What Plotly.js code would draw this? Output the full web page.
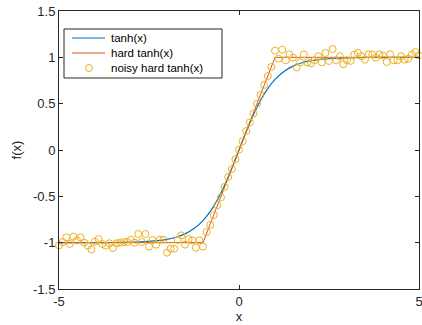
<!DOCTYPE html>
<html>
<head>
<meta charset="utf-8">
<script src="https://cdn.plot.ly/plotly-3.0.1.min.js"></script>
<style>html,body{margin:0;padding:0;background:#fff;}#chart{width:422px;height:325px;}</style>
</head>
<body>
<div id="chart"></div>
<script>
// tanh(x) sampled values
var tanhX = [-5,-4.75,-4.5,-4.25,-4,-3.75,-3.5,-3.25,-3,-2.75,-2.5,-2.25,-2,-1.75,-1.5,-1.25,-1,-0.75,-0.5,-0.25,0,0.25,0.5,0.75,1,1.25,1.5,1.75,2,2.25,2.5,2.75,3,3.25,3.5,3.75,4,4.25,4.5,4.75,5];
var tanhY = [-0.9999,-0.9999,-0.9998,-0.9996,-0.9993,-0.9989,-0.9982,-0.9970,-0.9951,-0.9919,-0.9866,-0.9780,-0.9640,-0.9414,-0.9051,-0.8483,-0.7616,-0.6351,-0.4621,-0.2449,0,0.2449,0.4621,0.6351,0.7616,0.8483,0.9051,0.9414,0.9640,0.9780,0.9866,0.9919,0.9951,0.9970,0.9982,0.9989,0.9993,0.9996,0.9998,0.9999,0.9999];
// hard tanh(x) breakpoints
var hardX = [-5,-1,1,5];
var hardY = [-1,-1,1,1];
// noisy hard tanh(x)
var noisyX = [-5,-4.9,-4.8,-4.7,-4.6,-4.5,-4.4,-4.3,-4.2,-4.1,-4,-3.9,-3.8,-3.7,-3.6,-3.5,-3.4,-3.3,-3.2,-3.1,-3,-2.9,-2.8,-2.7,-2.6,-2.5,-2.4,-2.3,-2.2,-2.1,-2,-1.9,-1.8,-1.7,-1.6,-1.5,-1.4,-1.3,-1.2,-1.1,-1,-0.9,-0.8,-0.7,-0.6,-0.5,-0.4,-0.3,-0.2,-0.1,0,0.1,0.2,0.3,0.4,0.5,0.6,0.7,0.8,0.9,1,1.1,1.2,1.3,1.4,1.5,1.6,1.7,1.8,1.9,2,2.1,2.2,2.3,2.4,2.5,2.6,2.7,2.8,2.9,3,3.1,3.2,3.3,3.4,3.5,3.6,3.7,3.8,3.9,4,4.1,4.2,4.3,4.4,4.5,4.6,4.7,4.8,4.9,5];
var noisyY = [-1.029,-0.993,-0.943,-1.014,-0.935,-0.975,-0.943,-1.000,-1.032,-1.072,-0.989,-0.961,-1.014,-1.032,-1.007,-1.057,-1.007,-1.000,-0.993,-0.993,-0.968,-1.000,-0.907,-0.993,-0.907,-1.043,-0.971,-1.021,-0.968,-0.968,-1.108,-1.065,-1.065,-0.971,-0.921,-1.021,-0.961,-0.975,-1.054,-0.975,-1.043,
  -0.886,-0.809,-0.703,-0.596,-0.512,-0.398,-0.291,-0.205,-0.100,0.004,0.093,0.204,0.297,0.394,0.498,0.595,0.703,0.799,0.896,
  1.072,0.986,1.082,0.968,1.032,0.996,0.892,0.946,1.032,0.946,0.935,0.968,1.011,0.946,1.047,0.961,1.090,0.968,1.011,0.925,0.968,0.961,1.029,1.047,1.011,0.975,1.032,1.032,0.996,1.032,1.018,0.950,1.032,0.968,0.968,1.011,0.975,0.986,1.029,1.057,1.022];
var xTicks = [-5,0,5];
var yTicks = [-1.5,-1,-0.5,0,0.5,1,1.5];
var seriesNames = ['tanh(x)','hard tanh(x)','noisy hard tanh(x)'];
var colors = ['#0072BD','#D95319','#EDB120'];

var font = {family:'Liberation Sans, Arial, sans-serif', size:13, color:'#262626'};
var legFont = {family:'Liberation Sans, Arial, sans-serif', size:11.5, color:'#000'};
var traces = [
  {x:tanhX, y:tanhY, type:'scatter', mode:'lines', name:seriesNames[0], line:{color:colors[0], width:1.2, shape:'spline'}},
  {x:hardX, y:hardY, type:'scatter', mode:'lines', name:seriesNames[1], line:{color:colors[1], width:1}},
  {x:noisyX, y:noisyY, type:'scatter', mode:'markers', name:seriesNames[2], cliponaxis:false,
   marker:{symbol:'circle-open', size:7, color:colors[2], line:{width:1, color:colors[2]}}}
];
var axisCommon = {showgrid:false, zeroline:false, showline:true, mirror:'allticks', linecolor:'#262626', linewidth:1,
  ticks:'inside', ticklen:4, tickcolor:'#262626', tickfont:font, ticklabeloverflow:'allow'};

// custom legend (MATLAB-style compact box)
var legBox = {x0:0.0139, x1:0.4528, y0:0.759, y1:0.9353};
var rowY = [0.9029, 0.8489, 0.7950];
var sampleX0 = 0.0361, sampleX1 = 0.1278, markX = 0.0833, textX = 0.1389;
var shapes = [
  {type:'rect', xref:'paper', yref:'paper', x0:legBox.x0, x1:legBox.x1, y0:legBox.y0, y1:legBox.y1, fillcolor:'#fff', line:{color:'#262626', width:1}, layer:'above'},
  {type:'line', xref:'paper', yref:'paper', x0:sampleX0, x1:sampleX1, y0:rowY[0], y1:rowY[0], line:{color:colors[0], width:1.2}, layer:'above'},
  {type:'line', xref:'paper', yref:'paper', x0:sampleX0, x1:sampleX1, y0:rowY[1], y1:rowY[1], line:{color:colors[1], width:1}, layer:'above'},
  {type:'circle', xref:'paper', yref:'paper', xsizemode:'pixel', ysizemode:'pixel', xanchor:markX, yanchor:rowY[2], x0:-3.5, x1:3.5, y0:-3.5, y1:3.5, line:{color:colors[2], width:1}, layer:'above'}
];
var annotations = seriesNames.map(function(n,i){
  return {xref:'paper', yref:'paper', x:textX, y:rowY[i], xanchor:'left', yanchor:'middle', text:n, showarrow:false, font:legFont};
});

var layout = {
  width:422, height:325, margin:{l:59, r:3, t:11, b:36},
  paper_bgcolor:'#fff', plot_bgcolor:'#fff', font:font, showlegend:false,
  xaxis: Object.assign({}, axisCommon, {range:[-5,5], tickvals:xTicks, ticktext:xTicks.map(String), title:{text:'x', font:font, standoff:3}}),
  yaxis: Object.assign({}, axisCommon, {range:[-1.5,1.5], tickvals:yTicks, ticktext:yTicks.map(String), title:{text:'f(x)', font:font, standoff:8}}),
  shapes:shapes, annotations:annotations
};
Plotly.newPlot('chart', traces, layout, {displayModeBar:false, staticPlot:true});
</script>
</body>
</html>
